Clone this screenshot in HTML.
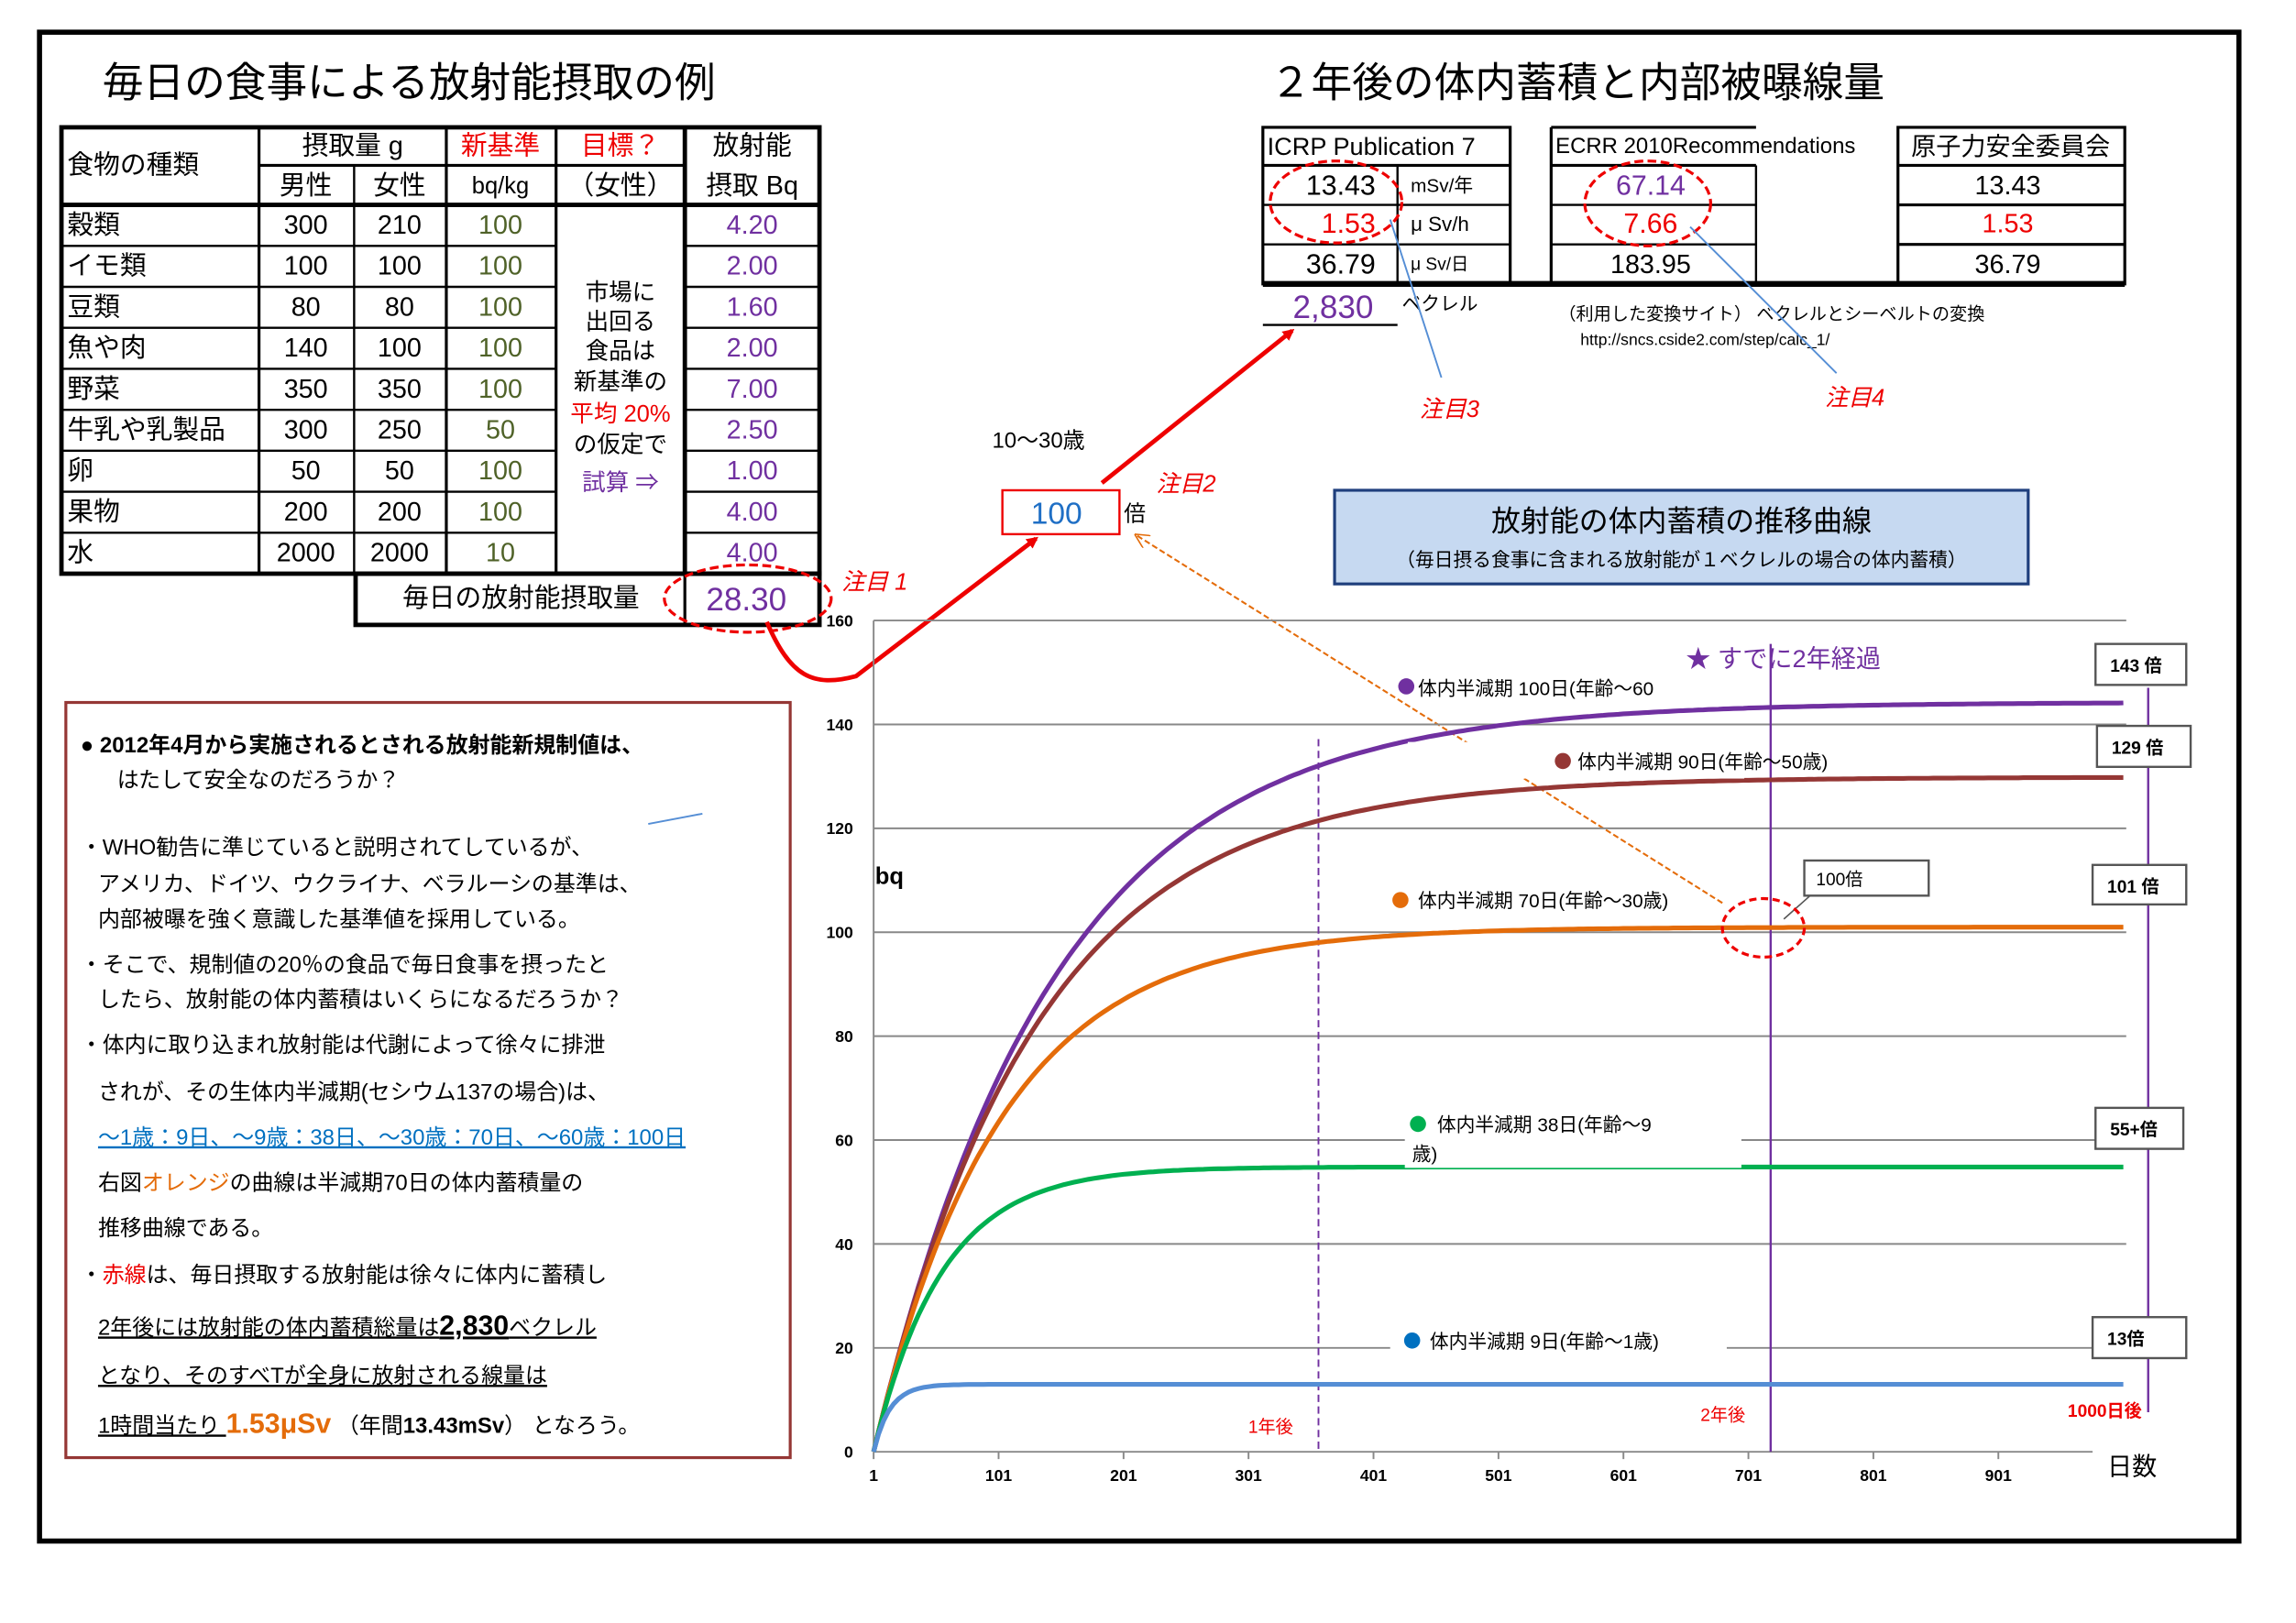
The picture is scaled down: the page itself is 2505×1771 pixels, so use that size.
<!DOCTYPE html>
<html><head><meta charset="utf-8">
<style>
html,body{margin:0;padding:0;background:#fff;}
svg{display:block;}
text{font-family:"Liberation Sans","Noto Sans CJK JP",sans-serif;}
</style></head>
<body>
<svg id="s" width="2505" height="1771" viewBox="0 0 1569 1109" preserveAspectRatio="none" xmlns="http://www.w3.org/2000/svg">
<rect x="0" y="0" width="1569" height="1109" fill="#fff"/>
<rect x="27" y="22" width="1503" height="1031" fill="none" stroke="#000" stroke-width="3.5"/>

<text x="70" y="66" font-size="28" fill="#000">毎日の食事による放射能摂取の例</text>
<text x="868" y="66" font-size="28" fill="#000">２年後の体内蓄積と内部被曝線量</text>

<!-- left table -->
<g stroke="#000" fill="none">
<rect x="42" y="87" width="518" height="305" stroke-width="3"/>
<line x1="177" y1="113" x2="468" y2="113" stroke-width="2"/>
<line x1="42" y1="140" x2="560" y2="140" stroke-width="3"/>
<g stroke-width="1.5">
<line x1="42" y1="168" x2="380" y2="168"/><line x1="468" y1="168" x2="560" y2="168"/>
<line x1="42" y1="196" x2="380" y2="196"/><line x1="468" y1="196" x2="560" y2="196"/>
<line x1="42" y1="224" x2="380" y2="224"/><line x1="468" y1="224" x2="560" y2="224"/>
<line x1="42" y1="252" x2="380" y2="252"/><line x1="468" y1="252" x2="560" y2="252"/>
<line x1="42" y1="280" x2="380" y2="280"/><line x1="468" y1="280" x2="560" y2="280"/>
<line x1="42" y1="308" x2="380" y2="308"/><line x1="468" y1="308" x2="560" y2="308"/>
<line x1="42" y1="336" x2="380" y2="336"/><line x1="468" y1="336" x2="560" y2="336"/>
<line x1="42" y1="364" x2="380" y2="364"/><line x1="468" y1="364" x2="560" y2="364"/>
</g>
<line x1="177" y1="87" x2="177" y2="392" stroke-width="2"/>
<line x1="242" y1="113" x2="242" y2="392" stroke-width="1.5"/>
<line x1="305" y1="87" x2="305" y2="392" stroke-width="2"/>
<line x1="380" y1="87" x2="380" y2="392" stroke-width="2"/>
<line x1="468" y1="87" x2="468" y2="392" stroke-width="3"/>
<rect x="243" y="392" width="317" height="35" stroke-width="3"/>
<line x1="468" y1="392" x2="468" y2="427" stroke-width="2"/>
</g>
<g font-size="18" dominant-baseline="central">
<text x="46" y="113">食物の種類</text>
<text x="241" y="100" text-anchor="middle">摂取量 g</text>
<text x="342" y="100" text-anchor="middle" fill="#e00">新基準</text>
<text x="424" y="100" text-anchor="middle" fill="#e00">目標？</text>
<text x="514" y="100" text-anchor="middle">放射能</text>
<text x="209" y="127" text-anchor="middle">男性</text>
<text x="273" y="127" text-anchor="middle">女性</text>
<text x="342" y="127" text-anchor="middle" font-size="16">bq/kg</text>
<text x="424" y="127" text-anchor="middle">（女性）</text>
<text x="514" y="127" text-anchor="middle">摂取 Bq</text>
<g>
<text x="46" y="154">穀類</text><text x="46" y="182">イモ類</text><text x="46" y="210">豆類</text><text x="46" y="238">魚や肉</text><text x="46" y="266">野菜</text><text x="46" y="294">牛乳や乳製品</text><text x="46" y="322">卵</text><text x="46" y="350">果物</text><text x="46" y="378">水</text>
</g>
<g text-anchor="middle">
<text x="209" y="154">300</text><text x="273" y="154">210</text>
<text x="209" y="182">100</text><text x="273" y="182">100</text>
<text x="209" y="210">80</text><text x="273" y="210">80</text>
<text x="209" y="238">140</text><text x="273" y="238">100</text>
<text x="209" y="266">350</text><text x="273" y="266">350</text>
<text x="209" y="294">300</text><text x="273" y="294">250</text>
<text x="209" y="322">50</text><text x="273" y="322">50</text>
<text x="209" y="350">200</text><text x="273" y="350">200</text>
<text x="209" y="378">2000</text><text x="273" y="378">2000</text>
</g>
<g text-anchor="middle" fill="#4f6228">
<text x="342" y="154">100</text><text x="342" y="182">100</text><text x="342" y="210">100</text><text x="342" y="238">100</text><text x="342" y="266">100</text><text x="342" y="294">50</text><text x="342" y="322">100</text><text x="342" y="350">100</text><text x="342" y="378">10</text>
</g>
<g text-anchor="middle" fill="#7030a0">
<text x="514" y="154">4.20</text><text x="514" y="182">2.00</text><text x="514" y="210">1.60</text><text x="514" y="238">2.00</text><text x="514" y="266">7.00</text><text x="514" y="294">2.50</text><text x="514" y="322">1.00</text><text x="514" y="350">4.00</text><text x="514" y="378">4.00</text>
</g>
<g text-anchor="middle" font-size="16">
<text x="424" y="200">市場に</text><text x="424" y="220">出回る</text><text x="424" y="240">食品は</text><text x="424" y="261">新基準の</text>
<text x="424" y="283" fill="#e00">平均 20%</text><text x="424" y="304">の仮定で</text>
<text x="424" y="330" fill="#7030a0">試算 ⇒</text>
</g>
<text x="356" y="409" text-anchor="middle">毎日の放射能摂取量</text>
<text x="510" y="410" text-anchor="middle" fill="#7030a0" font-size="22">28.30</text>
</g>
<ellipse cx="511" cy="409" rx="57" ry="23" fill="none" stroke="#e00" stroke-width="2" stroke-dasharray="6,3"/>
<text x="575" y="403" font-size="16" fill="#e00" font-style="italic">注目 1</text>

<!-- right tables -->
<g stroke="#000" fill="none">
<rect x="863" y="87" width="169" height="107" stroke-width="2"/>
<line x1="863" y1="113" x2="1032" y2="113" stroke-width="2"/>
<line x1="863" y1="140" x2="1032" y2="140" stroke-width="1.5"/>
<line x1="863" y1="167" x2="1032" y2="167" stroke-width="1.5"/>
<line x1="955" y1="113" x2="955" y2="194" stroke-width="1.5"/>
<line x1="863" y1="194" x2="1452" y2="194" stroke-width="4"/>
<line x1="1060" y1="87" x2="1200" y2="87" stroke-width="2"/>
<line x1="1060" y1="87" x2="1060" y2="194" stroke-width="2"/>
<line x1="1060" y1="113" x2="1200" y2="113" stroke-width="2"/>
<line x1="1060" y1="140" x2="1200" y2="140" stroke-width="1.5"/>
<line x1="1060" y1="167" x2="1200" y2="167" stroke-width="1.5"/>
<line x1="1200" y1="113" x2="1200" y2="194" stroke-width="1.5"/>
<rect x="1297" y="87" width="155" height="107" stroke-width="2"/>
<line x1="1297" y1="113" x2="1452" y2="113" stroke-width="2"/>
<line x1="1297" y1="140" x2="1452" y2="140" stroke-width="2"/>
<line x1="1297" y1="167" x2="1452" y2="167" stroke-width="2"/>
</g>
<g dominant-baseline="central" font-size="17">
<text x="866" y="100" font-size="17">ICRP Publication 7</text>
<text x="940" y="127" text-anchor="end" font-size="19">13.43</text>
<text x="940" y="153" text-anchor="end" font-size="19" fill="#e00">1.53</text>
<text x="940" y="181" text-anchor="end" font-size="19">36.79</text>
<text x="964" y="127" font-size="13">mSv/年</text>
<text x="964" y="153" font-size="14">μ Sv/h</text>
<text x="964" y="181" font-size="12">μ Sv/日</text>
<text x="1063" y="100" font-size="15">ECRR 2010Recommendations</text>
<text x="1128" y="127" text-anchor="middle" font-size="19" fill="#7030a0">67.14</text>
<text x="1128" y="153" text-anchor="middle" font-size="19" fill="#e00">7.66</text>
<text x="1128" y="181" text-anchor="middle" font-size="18">183.95</text>
<text x="1374" y="100" text-anchor="middle" font-size="17">原子力安全委員会</text>
<text x="1372" y="127" text-anchor="middle" font-size="18">13.43</text>
<text x="1372" y="153" text-anchor="middle" font-size="18" fill="#e00">1.53</text>
<text x="1372" y="181" text-anchor="middle" font-size="18">36.79</text>
<text x="911" y="210" text-anchor="middle" font-size="22" fill="#7030a0">2,830</text>
<text x="958" y="208" font-size="13">ベクレル</text>
<text x="1065" y="215" font-size="12">（利用した変換サイト） ベクレルとシーベルトの変換</text>
<text x="1080" y="232" font-size="11">http://sncs.cside2.com/step/calc_1/</text>
</g>
<line x1="863" y1="222" x2="955" y2="222" stroke="#000" stroke-width="1.5"/>
<ellipse cx="913" cy="138" rx="45" ry="28" fill="none" stroke="#e00" stroke-width="2" stroke-dasharray="6,3"/>
<ellipse cx="1126" cy="139" rx="43" ry="29" fill="none" stroke="#e00" stroke-width="2" stroke-dasharray="6,3"/>
<line x1="950" y1="150" x2="985" y2="258" stroke="#558ed5" stroke-width="1.2"/>
<line x1="1155" y1="155" x2="1255" y2="255" stroke="#558ed5" stroke-width="1.2"/>
<line x1="443" y1="563" x2="480" y2="556" stroke="#558ed5" stroke-width="1.2"/>
<text x="970" y="285" font-size="16" fill="#e00" font-style="italic">注目3</text>
<text x="1247" y="277" font-size="16" fill="#e00" font-style="italic">注目4</text>

<!-- arrows & 100 box -->
<defs>
<marker id="ar" markerWidth="8" markerHeight="8" refX="6" refY="4" orient="auto" markerUnits="userSpaceOnUse"><path d="M0,0 L8,4 L0,8 z" fill="#e00"/></marker>
<marker id="ao" markerWidth="10" markerHeight="10" refX="8" refY="5" orient="auto" markerUnits="userSpaceOnUse"><path d="M0,0 L10,5 L0,10" fill="none" stroke="#e46c0a" stroke-width="1"/></marker>
</defs>
<path d="M753,330 L883,226" stroke="#e00" stroke-width="3" fill="none" marker-end="url(#ar)"/>
<path d="M524,425 C540,462 555,470 585,462 L708,368" stroke="#e00" stroke-width="3" fill="none" marker-end="url(#ar)"/>
<line x1="1177" y1="617" x2="777" y2="366" stroke="#e46c0a" stroke-width="1.3" stroke-dasharray="4,2" marker-end="url(#ao)"/>
<text x="678" y="306" font-size="15">10〜30歳</text>
<rect x="685" y="335" width="80" height="30" fill="none" stroke="#e00" stroke-width="1.5"/>
<text x="722" y="358" text-anchor="middle" font-size="21" fill="#1f6fc5">100</text>
<text x="768" y="356" font-size="15">倍</text>
<text x="790" y="336" font-size="16" fill="#e00" font-style="italic">注目2</text>

<!-- title box -->
<rect x="912" y="335" width="474" height="64" fill="#c6d9f1" stroke="#1f3f7d" stroke-width="2"/>
<text x="1149" y="363" text-anchor="middle" font-size="20">放射能の体内蓄積の推移曲線</text>
<text x="1149" y="387" text-anchor="middle" font-size="13">（毎日摂る食事に含まれる放射能が１ベクレルの場合の体内蓄積）</text>

<!-- chart -->
<g id="grid" stroke="#888" stroke-width="1.2"></g>
<g font-size="11" font-weight="bold" text-anchor="end" id="ylab"></g>
<g font-size="11" font-weight="bold" text-anchor="middle" id="xlab"></g>
<line x1="597" y1="424" x2="597" y2="992" stroke="#888" stroke-width="1.2"/>
<line x1="901" y1="505" x2="901" y2="992" stroke="#7030a0" stroke-width="1.2" stroke-dasharray="5,3"/>
<line x1="1210" y1="440" x2="1210" y2="992" stroke="#7030a0" stroke-width="1.5"/>
<line x1="1468" y1="470" x2="1468" y2="965" stroke="#7030a0" stroke-width="1.5"/>
<g id="curves" fill="none" stroke-width="3.2"></g>
<text x="598" y="604" font-size="16" font-weight="bold">bq</text>
<text x="1440" y="1008" font-size="17">日数</text>
<text x="853" y="979" font-size="12" fill="#e00">1年後</text>
<text x="1162" y="971" font-size="12" fill="#e00">2年後</text>
<text x="1413" y="968" font-size="12" fill="#e00" font-weight="bold">1000日後</text>
<text x="1152" y="456" font-size="17" fill="#7030a0">★ すでに2年経過</text>

<g font-size="13">
<rect x="962" y="507" width="230" height="25" fill="#fff"/>
<circle cx="961" cy="469" r="5.5" fill="#7030a0"/><text x="969" y="475">体内半減期 100日(年齢～60</text>
<circle cx="1068" cy="520" r="5.5" fill="#953735"/><text x="1078" y="525">体内半減期 90日(年齢～50歳)</text>
<circle cx="957" cy="615" r="5.5" fill="#e46c0a"/><text x="969" y="620">体内半減期 70日(年齢～30歳)</text>
<rect x="960" y="756" width="230" height="42" fill="#fff"/>
<circle cx="969" cy="768" r="5.5" fill="#00b050"/><text x="982" y="773">体内半減期 38日(年齢～9</text><text x="965" y="793">歳)</text>
<rect x="950" y="902" width="230" height="26" fill="#fff"/>
<circle cx="965" cy="916" r="5.5" fill="#0070c0"/><text x="977" y="921">体内半減期 9日(年齢～1歳)</text>
</g>
<g font-size="12" font-weight="bold" stroke-width="1.5">
<rect x="1432" y="440" width="62" height="28" fill="#fff" stroke="#555"/><text x="1442" y="459">143 倍</text>
<rect x="1433" y="496" width="64" height="28" fill="#fff" stroke="#555"/><text x="1443" y="515">129 倍</text>
<rect x="1430" y="591" width="64" height="27" fill="#fff" stroke="#555"/><text x="1440" y="610">101 倍</text>
<rect x="1432" y="757" width="60" height="28" fill="#fff" stroke="#555"/><text x="1442" y="776">55+倍</text>
<rect x="1430" y="900" width="64" height="28" fill="#fff" stroke="#555"/><text x="1440" y="919">13倍</text>
<rect x="1233" y="588" width="85" height="24" fill="#fff" stroke="#555"/><text x="1241" y="605" font-weight="normal">100倍</text>
</g>
<line x1="1237" y1="612" x2="1219" y2="628" stroke="#555" stroke-width="1"/>
<ellipse cx="1205" cy="634" rx="28" ry="20" fill="none" stroke="#e00" stroke-width="2" stroke-dasharray="5,3"/>

<!-- left text box -->
<rect x="45" y="480" width="495" height="516" fill="none" stroke="#953735" stroke-width="2"/>
<g font-size="15">
<text x="55" y="514" font-weight="bold">● 2012年4月から実施されるとされる放射能新規制値は、</text>
<text x="80" y="538">はたして安全なのだろうか？</text>
<text x="55" y="584">・WHO勧告に準じていると説明されてしているが、</text>
<text x="67" y="609">アメリカ、ドイツ、ウクライナ、ベラルーシの基準は、</text>
<text x="67" y="633">内部被曝を強く意識した基準値を採用している。</text>
<text x="55" y="664">・そこで、規制値の20％の食品で毎日食事を摂ったと</text>
<text x="67" y="688">したら、放射能の体内蓄積はいくらになるだろうか？</text>
<text x="55" y="719">・体内に取り込まれ放射能は代謝によって徐々に排泄</text>
<text x="67" y="751">されが、その生体内半減期(セシウム137の場合)は、</text>
<text x="67" y="782" fill="#0070c0" text-decoration="underline">～1歳：9日、～9歳：38日、～30歳：70日、～60歳：100日</text>
<text x="67" y="813">右図<tspan fill="#e46c0a">オレンジ</tspan>の曲線は半減期70日の体内蓄積量の</text>
<text x="67" y="844">推移曲線である。</text>
<text x="55" y="876">・<tspan fill="#e00">赤線</tspan>は、毎日摂取する放射能は徐々に体内に蓄積し</text>
<text x="67" y="912" text-decoration="underline">2年後には放射能の体内蓄積総量は<tspan font-weight="bold" font-size="19">2,830</tspan>ベクレル</text>
<text x="67" y="945" text-decoration="underline">となり、そのすべTが全身に放射される線量は</text>
<text x="67" y="979"><tspan text-decoration="underline">1時間当たり </tspan><tspan fill="#e46c0a" font-weight="bold" font-size="19">1.53μSv</tspan> （年間<tspan font-weight="bold">13.43mSv</tspan>） となろう。</text>
</g>
</svg>
<script>
var NS="http://www.w3.org/2000/svg";
function el(p,t,a,txt){var e=document.createElementNS(NS,t);for(var k in a)e.setAttribute(k,a[k]);if(txt!==undefined)e.textContent=txt;document.getElementById(p).appendChild(e);}
function Y(v){return 992-v*3.55;}
function X(d){return 597+(d-1)*0.854;}
for(var v=0;v<=160;v+=20){ if(v>0) el("grid","line",{x1:597,y1:Y(v),x2:1453,y2:Y(v)}); el("ylab","text",{x:583,y:Y(v)+4},String(v)); }
el("grid","line",{x1:597,y1:992,x2:1430,y2:992});
for(var d=1;d<=901;d+=100){ el("grid","line",{x1:X(d),y1:992,x2:X(d),y2:997}); el("xlab","text",{x:X(d),y:1012},String(d)); }
var S=[[100,"#7030a0"],[90,"#953735"],[70,"#e46c0a"],[38,"#00b050"],[9,"#558ed5"]];
S.forEach(function(s){var T=s[0],A=T/Math.LN2,p="";for(var t=0;t<=1000;t+=4){var y=A*(1-Math.pow(0.5,t/T));p+=(t?"L":"M")+X(t+1).toFixed(1)+","+Y(y).toFixed(1);}el("curves","path",{d:p,stroke:s[1]});});
</script>
</body></html>
